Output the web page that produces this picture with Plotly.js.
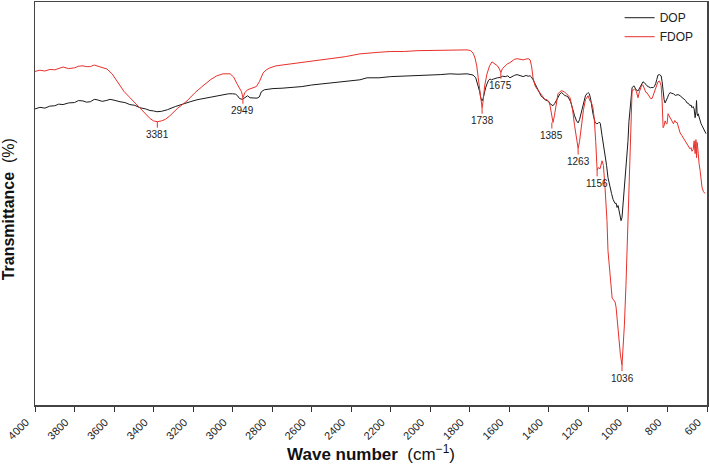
<!DOCTYPE html>
<html>
<head>
<meta charset="utf-8">
<script src="https://cdn.plot.ly/plotly-3.0.1.min.js"></script>
<style>
  body { margin: 0; background: #fff; }
  #chart { width: 709px; height: 470px; }
</style>
</head>
<body>
<div id="chart"></div>
<script>
// DOP spectrum (wavenumber, transmittance)
var dopWave = [4000, 3975, 3950, 3925, 3900, 3880, 3858, 3830, 3800, 3780, 3757, 3740, 3720, 3700, 3686, 3660, 3640, 3620, 3600, 3585, 3570, 3545, 3520, 3495, 3469, 3440, 3418, 3400, 3383, 3360, 3330, 3290, 3251, 3215, 3180, 3150, 3115, 3080, 3050, 3020, 3000, 2985, 2975, 2965, 2950, 2935, 2925, 2912, 2895, 2877, 2865, 2855, 2840, 2820, 2796, 2750, 2710, 2650, 2600, 2550, 2500, 2430, 2356, 2320, 2260, 2200, 2130, 2067, 2000, 1950, 1900, 1860, 1814, 1795, 1784, 1770, 1760, 1750, 1745, 1738, 1733, 1728, 1720, 1713, 1705, 1698, 1690, 1680, 1670, 1660, 1645, 1635, 1620, 1608, 1597, 1585, 1575, 1561, 1545, 1530, 1515, 1505, 1495, 1488, 1480, 1470, 1460, 1450, 1440, 1430, 1420, 1409, 1400, 1394, 1385, 1379, 1370, 1360, 1350, 1344, 1335, 1320, 1310, 1303, 1290, 1280, 1270, 1260, 1252, 1245, 1235, 1225, 1215, 1208, 1202, 1195, 1188, 1177, 1166, 1158, 1151, 1145, 1140, 1131, 1124, 1116, 1108, 1101, 1091, 1083, 1075, 1065, 1060, 1055, 1050, 1045, 1040, 1035, 1030, 1025, 1018, 1010, 1000, 995, 989, 984, 979, 970, 964, 957, 949, 942, 935, 930, 924, 917, 910, 904, 898, 891, 885, 879, 873, 867, 860, 854, 848, 840, 832, 827, 822, 817, 812, 806, 800, 794, 787, 778, 770, 760, 746, 736, 725, 715, 708, 701, 694, 686, 681, 676, 670, 665, 660, 656, 653, 650, 647, 645, 640, 635, 630, 625, 618, 610, 605, 600];
var dopT = [74.2, 74.6, 74.4, 74.9, 75.0, 75.4, 75.3, 75.7, 75.8, 76.3, 76.2, 75.9, 76.0, 76.6, 76.5, 76.1, 76.3, 76.6, 76.4, 76.1, 76.0, 75.8, 75.3, 75.1, 74.5, 74.2, 73.8, 73.7, 73.5, 73.6, 74.0, 74.8, 75.5, 76.0, 76.5, 76.8, 77.0, 77.4, 77.8, 78.0, 78.0, 77.9, 77.5, 76.8, 76.6, 77.2, 77.5, 77.0, 76.9, 76.9, 77.2, 78.5, 79.0, 79.2, 79.3, 79.4, 79.5, 79.8, 80.2, 80.5, 80.8, 81.1, 81.5, 82.0, 82.0, 82.3, 82.4, 82.6, 82.7, 82.8, 83.0, 82.9, 83.0, 82.9, 82.7, 82.0, 80.5, 78.5, 77.0, 76.2, 76.8, 78.0, 79.5, 80.5, 81.4, 81.7, 81.5, 81.7, 81.9, 82.0, 82.1, 82.4, 82.3, 82.5, 82.0, 82.4, 82.6, 82.8, 82.5, 82.3, 82.6, 82.4, 82.5, 82.2, 81.5, 80.5, 79.2, 78.5, 77.5, 77.0, 76.5, 76.3, 76.0, 75.5, 75.2, 75.0, 75.6, 76.5, 77.6, 78.0, 78.3, 77.6, 77.4, 77.2, 76.0, 74.0, 72.5, 71.2, 70.7, 71.5, 73.5, 75.8, 77.5, 78.0, 78.3, 78.0, 76.5, 73.0, 70.8, 70.5, 70.6, 70.9, 70.6, 67.5, 65.5, 63.0, 60.0, 57.0, 54.5, 53.0, 51.5, 50.5, 50.6, 49.5, 50.0, 48.5, 47.5, 46.2, 47.0, 50.0, 54.0, 58.0, 66.0, 71.0, 75.0, 78.0, 79.5, 80.0, 79.6, 78.9, 78.7, 79.3, 80.0, 80.6, 81.0, 80.8, 80.3, 80.0, 79.8, 79.6, 79.5, 79.6, 79.5, 79.8, 80.5, 81.6, 82.7, 82.8, 82.5, 81.0, 78.0, 76.5, 75.7, 76.2, 77.0, 77.8, 78.3, 78.1, 78.0, 77.6, 77.8, 77.5, 77.0, 76.8, 76.3, 75.7, 75.6, 75.0, 75.2, 74.5, 74.8, 74.2, 72.0, 73.5, 76.3, 73.0, 72.5, 73.0, 72.0, 71.2, 70.5, 70.0, 69.2, 68.6, 68.0];

// FDOP spectrum (wavenumber, transmittance)
var fdopWave = [4000, 3975, 3950, 3925, 3900, 3880, 3858, 3830, 3800, 3780, 3757, 3740, 3720, 3700, 3686, 3660, 3636, 3610, 3585, 3550, 3519, 3495, 3469, 3440, 3418, 3400, 3381, 3360, 3340, 3317, 3280, 3231, 3190, 3150, 3110, 3080, 3049, 3013, 2995, 2978, 2963, 2955, 2948, 2938, 2925, 2905, 2880, 2865, 2846, 2830, 2811, 2780, 2750, 2700, 2659, 2600, 2550, 2500, 2430, 2356, 2320, 2260, 2200, 2130, 2067, 2000, 1950, 1900, 1860, 1814, 1795, 1784, 1775, 1765, 1755, 1745, 1738, 1733, 1725, 1713, 1700, 1688, 1675, 1660, 1650, 1643, 1635, 1622, 1610, 1597, 1585, 1575, 1561, 1545, 1530, 1515, 1505, 1495, 1488, 1480, 1470, 1460, 1450, 1440, 1430, 1420, 1409, 1400, 1394, 1385, 1379, 1372, 1365, 1354, 1344, 1335, 1320, 1310, 1293, 1280, 1270, 1260, 1252, 1245, 1235, 1225, 1215, 1208, 1202, 1192, 1185, 1177, 1170, 1163, 1156, 1150, 1141, 1131, 1124, 1116, 1106, 1101, 1091, 1080, 1072, 1065, 1060, 1055, 1050, 1045, 1038, 1030, 1025, 1018, 1010, 1004, 997, 989, 984, 979, 970, 964, 957, 949, 942, 935, 930, 924, 917, 910, 903, 895, 885, 878, 870, 863, 855, 848, 840, 832, 827, 822, 817, 812, 806, 802, 797, 790, 783, 777, 770, 763, 757, 751, 743, 736, 728, 720, 712, 701, 694, 686, 681, 676, 670, 665, 660, 656, 653, 650, 647, 645, 640, 635, 630, 625, 618, 610, 605, 600];
var fdopT = [83.6, 83.9, 83.7, 84.1, 84.0, 84.4, 84.7, 84.3, 84.5, 84.9, 85.0, 84.8, 84.8, 85.2, 85.0, 84.7, 84.2, 83.0, 81.2, 78.6, 77.0, 75.8, 74.3, 73.0, 71.8, 71.2, 71.0, 71.2, 71.6, 72.5, 74.3, 76.2, 78.3, 80.0, 81.6, 82.5, 83.0, 83.0, 82.2, 80.5, 79.3, 78.5, 77.0, 78.3, 79.0, 79.4, 79.8, 81.0, 83.2, 84.0, 84.5, 85.0, 85.2, 85.5, 85.8, 86.2, 86.5, 86.8, 87.3, 88.0, 88.2, 88.4, 88.6, 88.6, 88.8, 88.9, 88.9, 89.0, 89.1, 89.0, 88.8, 88.2, 87.2, 85.0, 81.0, 76.5, 74.5, 76.0, 80.0, 83.0, 85.0, 86.0, 85.6, 85.0, 84.2, 83.3, 84.3, 85.0, 85.5, 85.8, 86.3, 86.6, 86.8, 86.6, 86.5, 86.7, 86.8, 86.5, 85.0, 82.0, 80.0, 79.2, 78.6, 77.8, 77.2, 76.6, 76.5, 76.0, 75.0, 72.0, 70.8, 72.5, 75.0, 78.0, 78.5, 78.8, 78.4, 78.0, 77.0, 74.0, 70.0, 66.5, 64.3, 66.0, 70.5, 74.0, 76.5, 77.2, 77.5, 76.2, 75.8, 74.5, 71.5, 66.0, 58.8, 59.5, 59.2, 61.2, 60.0, 54.5, 46.2, 38.7, 32.0, 26.8, 26.3, 25.8, 24.5, 22.0, 19.0, 15.5, 12.5, 10.0, 13.8, 20.0, 30.0, 40.5, 52.0, 63.8, 72.0, 78.8, 79.0, 79.3, 78.5, 77.0, 78.5, 79.8, 80.2, 80.2, 79.5, 78.4, 78.2, 77.5, 76.8, 76.8, 77.8, 78.8, 80.0, 81.0, 81.2, 80.0, 76.0, 69.5, 70.0, 71.2, 70.5, 70.5, 73.0, 72.3, 71.5, 71.2, 70.5, 71.3, 70.8, 70.8, 69.5, 68.2, 67.6, 67.0, 66.2, 65.5, 64.8, 64.2, 64.5, 63.6, 64.0, 66.2, 63.0, 66.5, 62.0, 65.8, 64.5, 62.0, 60.5, 58.8, 56.5, 54.5, 53.5, 53.0];

// labelled absorption bands (all on FDOP)
var peakWave = [3381, 2948, 1738, 1643, 1385, 1252, 1156, 1030];
var peakT = [71.0, 77.0, 74.5, 83.3, 70.8, 64.3, 58.8, 10.0];
var peakText = ['3381', '2949', '1738', '1675', '1385', '1263', '1156', '1036'];

var xTicks = [4000, 3800, 3600, 3400, 3200, 3000, 2800, 2600, 2400, 2200, 2000, 1800, 1600, 1400, 1200, 1000, 800, 600];

var fontFamily = 'Arial, "Liberation Sans", sans-serif';

var traceDOP = {
  x: dopWave,
  y: dopT,
  name: 'DOP',
  type: 'scatter',
  mode: 'lines',
  line: {color: '#1a1a1a', width: 1}
};
var traceFDOP = {
  x: fdopWave,
  y: fdopT,
  name: 'FDOP',
  type: 'scatter',
  mode: 'lines',
  line: {color: '#e8302a', width: 1}
};

var annotations = peakWave.map(function (w, i) {
  return {
    x: w,
    y: peakT[i],
    xref: 'x',
    yref: 'y',
    text: peakText[i],
    showarrow: true,
    arrowhead: 0,
    arrowwidth: 1,
    arrowcolor: '#e8302a',
    ax: 0,
    ay: 13,
    standoff: 0,
    font: {family: fontFamily, size: 10, color: '#222'}
  };
});

// y title drawn as a rotated annotation so it can sit near the page edge
annotations.push({
  xref: 'paper',
  yref: 'paper',
  x: -0.039,
  y: 0.485,
  xanchor: 'center',
  yanchor: 'middle',
  textangle: -90,
  showarrow: false,
  text: '<b>Transmittance</b>  (%)',
  font: {family: fontFamily, size: 16, color: '#111'}
});

var layout = {
  width: 709,
  height: 470,
  margin: {l: 35, r: 2, t: 2, b: 65},
  paper_bgcolor: '#fff',
  plot_bgcolor: '#fff',
  font: {family: fontFamily, color: '#222'},
  showlegend: true,
  legend: {
    x: 0.87, y: 0.997, xanchor: 'left', yanchor: 'top',
    bgcolor: 'rgba(0,0,0,0)',
    font: {family: fontFamily, size: 12, color: '#222'},
    tracegroupgap: 0
  },
  xaxis: {
    range: [4000, 600],
    tickvals: xTicks,
    ticktext: xTicks.map(String),
    tickangle: -45,
    ticklabelshift: 9,
    ticklabeloverflow: 'allow',
    ticks: 'outside',
    ticklen: 5,
    tickwidth: 1,
    tickcolor: '#333',
    tickfont: {family: fontFamily, size: 11, color: '#222'},
    showgrid: false,
    zeroline: false,
    showline: true,
    linecolor: '#444',
    linewidth: 1.5,
    mirror: true,
    title: {
      text: '<b>Wave number</b>  (cm<sup>−1</sup>)',
      font: {family: fontFamily, size: 17, color: '#111'},
      standoff: 6
    }
  },
  yaxis: {
    range: [0, 101],
    showticklabels: false,
    ticks: '',
    showgrid: false,
    zeroline: false,
    showline: true,
    linecolor: '#444',
    linewidth: 1.5,
    mirror: true
  },
  annotations: annotations
};

Plotly.newPlot('chart', [traceDOP, traceFDOP], layout, {displayModeBar: false, staticPlot: true});
</script>
</body>
</html>
